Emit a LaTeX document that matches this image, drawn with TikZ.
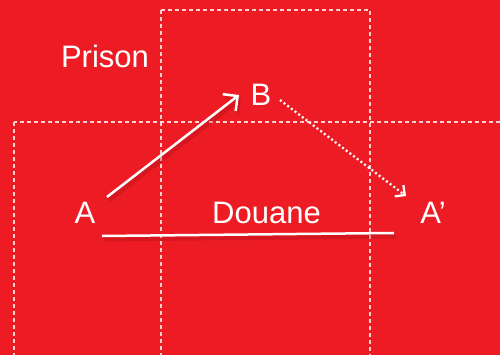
\documentclass[tikz,border=0pt]{standalone}
\usepackage{fontspec}
\setmainfont{Liberation Sans}
\usetikzlibrary{arrows.meta}
\definecolor{bgred}{RGB}{237,28,36}
\definecolor{shade}{RGB}{150,10,20}
\tikzset{
  lbl/.style={text=white, inner sep=0pt, anchor=base, font=\fontsize{31}{36}\selectfont},
  frame/.style={draw=white, draw opacity=0.8, line width=1.3pt, dash pattern=on 4pt off 3pt},
  solidline/.style={draw=white, line width=2.5pt,
    preaction={draw=shade, draw opacity=0.25, line width=5pt, transform canvas={shift={(2pt,-3pt)}}}},
  bigarrow/.style={solidline, -{Straight Barb[angle=90:15pt, line width=2.5pt]}},
  dotarrow/.style={draw=white, line width=2.3pt, dash pattern=on 2pt off 2.6pt,
    -{Straight Barb[angle=90:10pt, line width=2.3pt]}}
}
\begin{document}
\begin{tikzpicture}[x=1pt, y=-1pt]
\fill[bgred] (0,0) rectangle (500,355);
\useasboundingbox (0,0) rectangle (500,355);
\begin{scope}
\clip (0,0) rectangle (500,355);
\draw[frame] (161,10) rectangle (370,370);
\draw[frame] (14,122) rectangle (520,370);
\end{scope}
\node[lbl] (prison) at (105,68) {Prison};
\node[lbl] (B) at (261,106) {B};
\node[lbl] (A) at (85,223) {A};
\node[lbl] (Ap) at (433,223) {A’};
\node[lbl] (douane) at (266.5,223) {Douane};
\draw[bigarrow] ([shift={(22,-26)}]A.base) -- ([shift={(-22,-11)}]B.base);
\draw[dotarrow] ([shift={(19,-6)}]B.base) -- ([shift={(-27,-27)}]Ap.base);
\draw[solidline] ([shift={(17,13)}]A.base) -- ([shift={(-39,10)}]Ap.base);
\end{tikzpicture}
\end{document}
